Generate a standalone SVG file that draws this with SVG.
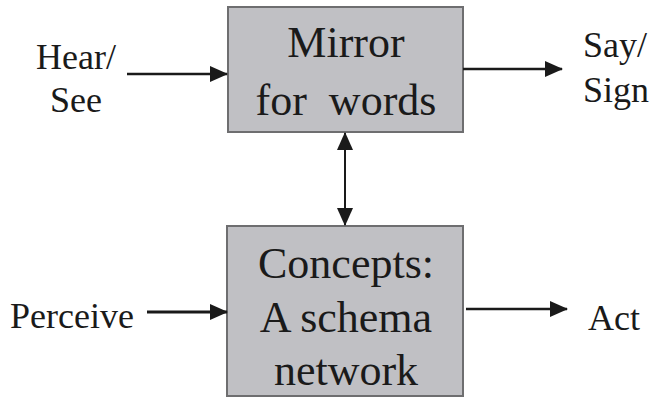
<svg xmlns="http://www.w3.org/2000/svg" width="650" height="398" viewBox="0 0 650 398">
<style>
.box{fill:#c0c0c4;stroke:#6e6e70;stroke-width:2}
text{font-family:'Liberation Serif','Times New Roman',Times,serif;fill:#1a1a1a}
.big{font-size:44px;text-anchor:middle;white-space:pre}
.lbl{font-size:36px}
.con{stroke:#1a1a1a;stroke-width:2.5;fill:none}
.test{font-family:'DejaVu Serif',serif;font-size:10px}
</style>
<defs>
<marker id="ah" markerUnits="userSpaceOnUse" markerWidth="18" markerHeight="18" viewBox="0 0 18 18" refX="17" refY="9" orient="auto-start-reverse">
<path d="M0,1 L18,9 L0,17 Z" fill="#1a1a1a"/>
</marker>
</defs>
<g id="mirror">
<rect class="box" x="228" y="7" width="235" height="125"/>
<text class="big" x="346" y="57">Mirror</text>
<text class="big" x="346" y="115" xml:space="preserve">for  words</text>
</g>
<g id="concepts">
<rect class="box" x="227" y="226" width="236" height="170"/>
<text class="big" x="346" y="278">Concepts:</text>
<text class="big" x="346" y="332">A schema</text>
<text class="big" x="346" y="385">network</text>
</g>
<g id="hearsee">
<text class="lbl" x="76" y="69" text-anchor="middle">Hear/</text>
<text class="lbl" x="76" y="112" text-anchor="middle">See</text>
</g>
<g id="perceive">
<text class="lbl" x="10" y="328">Perceive</text>
</g>
<g id="saysign">
<text class="lbl" x="583" y="57">Say/</text>
<text class="lbl" x="583" y="102">Sign</text>
</g>
<g id="act">
<text class="lbl" x="588" y="330">Act</text>
</g>
<g id="connectors">
<line class="con" x1="127" y1="74" x2="227" y2="74" marker-end="url(#ah)"/>
<line class="con" x1="147" y1="312" x2="227" y2="312" marker-end="url(#ah)" style="stroke-width:3"/>
<line class="con" x1="463" y1="69" x2="562" y2="69" marker-end="url(#ah)"/>
<line class="con" x1="466" y1="309" x2="567" y2="309" marker-end="url(#ah)"/>
<line class="con" x1="345" y1="133" x2="345" y2="225" marker-start="url(#ah)" marker-end="url(#ah)" style="stroke-width:2"/>
</g>
</svg>
